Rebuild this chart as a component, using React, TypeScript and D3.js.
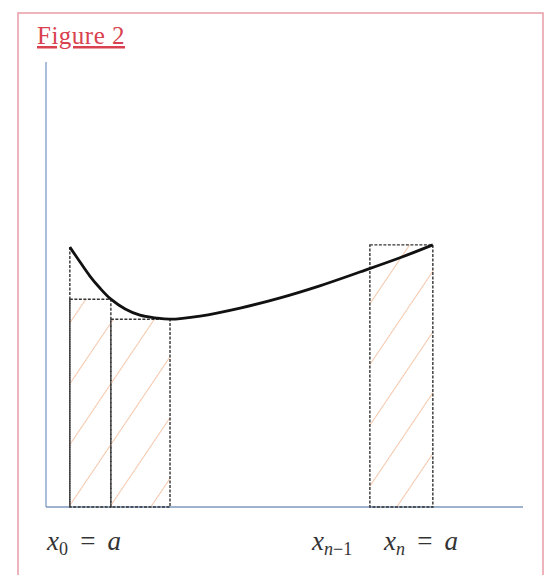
import React from "react";
import * as d3 from "d3";

const curveX = [0.5, 0.71, 0.92, 1.13, 1.36, 1.66, 1.97, 2.29, 2.6, 3.23, 4.07, 4.91, 5.74, 6.58, 7.42, 8.11];
const curveY = [5.84, 5.51, 5.19, 4.92, 4.67, 4.45, 4.31, 4.25, 4.22, 4.29, 4.47, 4.7, 4.97, 5.28, 5.6, 5.89];
const rectX0 = [0.5, 1.36, 6.79];
const rectX1 = [1.36, 2.6, 8.11];
const rectTop = [4.67, 4.22, 5.89];
const title = "Figure 2";

export default function App() {
  const W = 552, H = 575;
  const x = d3.scaleLinear().domain([0, 10]).range([46, 523]);
  const y = d3.scaleLinear().domain([0, 10]).range([507, 62]);
  const pts: [number, number][] = curveX.map((v, i) => [x(v), y(curveY[i])]);
  const line = d3.line().curve(d3.curveCatmullRom.alpha(0.5))(pts) || "";
  const axisColor = "#8ea9cc";
  const mathFont = "'Liberation Serif', 'DejaVu Serif', serif";
  const dash = { stroke: "#333", strokeWidth: 1.4, strokeDasharray: "3,1.5", fill: "none" };
  const eq = "\u00A0\u2009=\u00A0\u2009";
  return (
    <svg width={W} height={H} style={{ position: "absolute", left: 0, top: 0, background: "#fff" }}>
      <defs>
        <pattern id="hatch" patternUnits="userSpaceOnUse" width="34" height="34" patternTransform="rotate(-56)">
          <line x1="0" y1="0" x2="34" y2="0" stroke="#f2b48e" strokeWidth="1.3" />
        </pattern>
      </defs>
      <rect x={18} y={13} width={525} height={580} fill="none" stroke="#e9a3ab" strokeWidth={1.6} />
      <text x={37} y={44} fontFamily="'Liberation Serif', serif" fontSize={25} letterSpacing={0.5} fill="#d9414f" textDecoration="underline">
        {title}
      </text>
      <line x1={x(0)} x2={x(0)} y1={y(10)} y2={y(0)} stroke={axisColor} strokeWidth={1.5} />
      <line x1={x(0)} x2={x(10)} y1={y(0)} y2={y(0)} stroke={"#7b98bf"} strokeWidth={1.5} />
      {rectX0.map((v, i) => (
        <g key={i}>
          <rect x={x(v)} y={y(rectTop[i])} width={x(rectX1[i]) - x(v)} height={y(0) - y(rectTop[i])} fill="url(#hatch)" />
          <rect x={x(v)} y={y(rectTop[i])} width={x(rectX1[i]) - x(v)} height={y(0) - y(rectTop[i])} {...dash} />
        </g>
      ))}
      <line x1={x(curveX[0])} x2={x(curveX[0])} y1={y(curveY[0])} y2={y(0)} {...dash} />
      <path d={line} fill="none" stroke="#111" strokeWidth={2.8} />
      <g fontFamily={mathFont} fontSize={27} fill="#333">
        <text x={47} y={550}>
          <tspan fontStyle="italic">x</tspan>
          <tspan fontSize={18} dy={5}>0</tspan>
          <tspan dy={-5}>{eq}</tspan>
          <tspan fontStyle="italic">a</tspan>
        </text>
        <text x={312} y={550}>
          <tspan fontStyle="italic">x</tspan>
          <tspan fontSize={18} dy={5} fontStyle="italic">n</tspan>
          <tspan fontSize={18}>−1</tspan>
        </text>
        <text x={384} y={550}>
          <tspan fontStyle="italic">x</tspan>
          <tspan fontSize={18} dy={5} fontStyle="italic">n</tspan>
          <tspan dy={-5}>{eq}</tspan>
          <tspan fontStyle="italic">a</tspan>
        </text>
      </g>
    </svg>
  );
}
